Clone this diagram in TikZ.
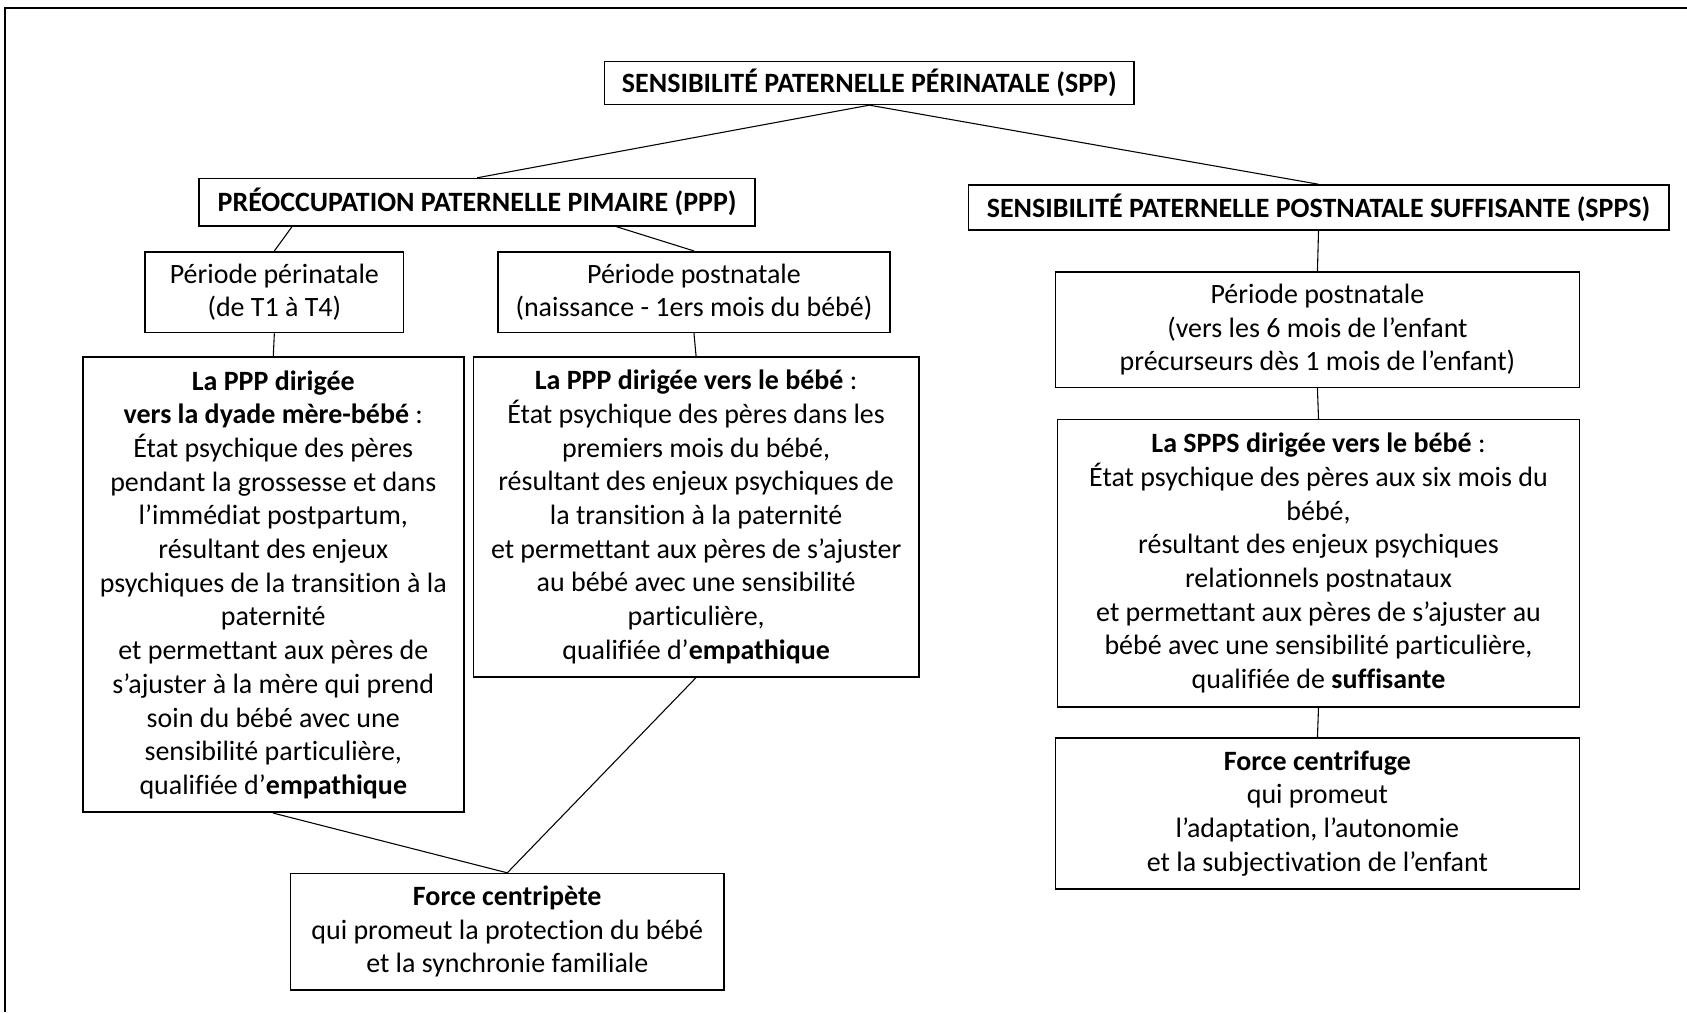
\documentclass[tikz,border=0pt]{standalone}
\usepackage{fontspec}
\setmainfont[Ligatures=NoCommon]{Carlito}
\usetikzlibrary{calc}
\begin{document}
\begin{tikzpicture}[x=0.5pt,y=-0.5pt,
  box/.style={draw=black, line width=0.75pt, inner sep=0pt, align=center,
    font=\fontsize{13}{15.65}\selectfont},
  headbox/.style={box, font=\fontsize{13}{15.65}\selectfont\bfseries},
  link/.style={draw=black, line width=0.5pt}]
\useasboundingbox (0,0) rectangle (1568,941);
% frame along the top and left edges
\draw[line width=1pt] (5,941) -- (5,7.5) -- (1568,7.5);

% headings
\node[headbox, minimum width=246pt, minimum height=20pt] (spp) at (808,77)
  {SENSIBILITÉ PATERNELLE PÉRINATALE (SPP)};
\node[headbox, minimum width=258.5pt, minimum height=22pt] (ppp) at (443.5,188)
  {PRÉOCCUPATION PATERNELLE PIMAIRE (PPP)};
\node[headbox, minimum width=325.5pt, minimum height=21pt] (spps) at (1225.5,193)
  {SENSIBILITÉ PATERNELLE POSTNATALE SUFFISANTE (SPPS)};

% left branch: periods
\node[box, minimum width=120pt, minimum height=37.5pt] (peri) at (255,271.5)
  {Période périnatale\\(de T1 à T4)};
\node[box, minimum width=182pt, minimum height=37.5pt] (postL) at (645,271.5)
  {Période postnatale\\(naissance - 1ers mois du bébé)};

% left branch: descriptions
\node[box, minimum width=177pt, minimum height=211.5pt] (dyade) at (254,543.5)
  {\textbf{La PPP dirigée}\\
   \textbf{vers la dyade mère-bébé} :\\
   État psychique des pères\\
   pendant la grossesse et dans\\
   l’immédiat postpartum,\\
   résultant des enjeux\\
   psychiques de la transition à la\\
   paternité\\
   et permettant aux pères de\\
   s’ajuster à la mère qui prend\\
   soin du bébé avec une\\
   sensibilité particulière,\\
   qualifiée d’\textbf{empathique}};
\node[box, minimum width=207pt, minimum height=148.5pt] (bebe) at (647,480.5)
  {\textbf{La PPP dirigée vers le bébé} :\\
   État psychique des pères dans les\\
   premiers mois du bébé,\\
   résultant des enjeux psychiques de\\
   la transition à la paternité\\
   et permettant aux pères de s’ajuster\\
   au bébé avec une sensibilité\\
   particulière,\\
   qualifiée d’\textbf{empathique}};

\node[box, minimum width=201.5pt, minimum height=54pt] (centri) at (471.5,866)
  {\textbf{Force centripète}\\
   qui promeut la protection du bébé\\
   et la synchronie familiale};

% right branch
\node[box, minimum width=243.5pt, minimum height=53.5pt] (postR) at (1224.5,306.5)
  {Période postnatale\\
   (vers les 6 mois de l’enfant\\
   précurseurs dès 1 mois de l’enfant)};
\node[box, minimum width=242.5pt, minimum height=133.5pt] (sppsB) at (1225.5,523.5)
  {\textbf{La SPPS dirigée vers le bébé} :\\
   État psychique des pères aux six mois du\\
   bébé,\\
   résultant des enjeux psychiques\\
   relationnels postnataux\\
   et permettant aux pères de s’ajuster au\\
   bébé avec une sensibilité particulière,\\
   qualifiée de \textbf{suffisante}};
\node[box, minimum width=243.5pt, minimum height=70pt] (centrif) at (1224.5,756)
  {\textbf{Force centrifuge}\\
   qui promeut\\
   l’adaptation, l’autonomie\\
   et la subjectivation de l’enfant};

% connectors
\draw[link] (spp.south) -- (ppp.north);
\draw[link] (spp.south) -- (spps.north);
\draw[link] ($(ppp.south west)!0.168!(ppp.south east)$) -- (peri.north);
\draw[link] ($(ppp.south west)!0.75!(ppp.south east)$) -- (postL.north);
\draw[link] (peri.south) -- (dyade.north);
\draw[link] (postL.south) -- (bebe.north);
\draw[link] (dyade.south) -- (centri.north);
\draw[link] (bebe.south) -- (centri.north);
\draw[link] (spps.south) -- (postR.north);
\draw[link] (postR.south) -- (sppsB.north);
\draw[link] (sppsB.south) -- (centrif.north);
\end{tikzpicture}
\end{document}
